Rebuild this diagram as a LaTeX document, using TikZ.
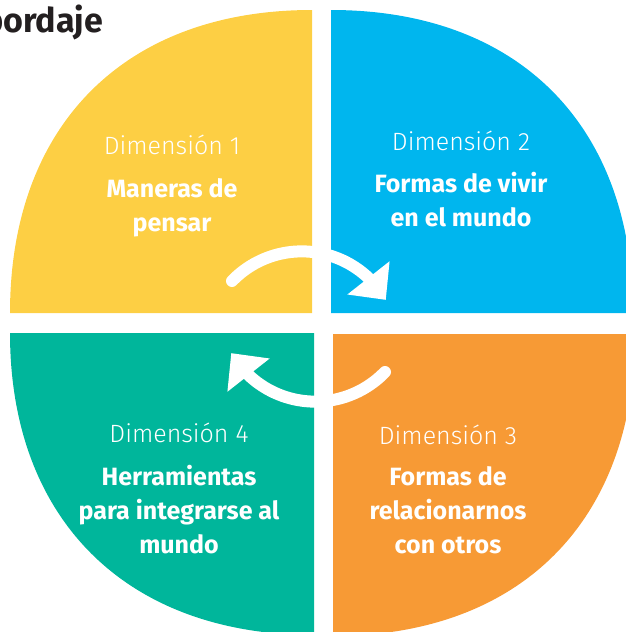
\documentclass[tikz,border=0pt]{standalone}
\usepackage{fontspec}
\setmainfont{Fira Sans}
\newfontfamily\lightfont{Fira Sans Light}
\usetikzlibrary{arrows.meta,bending}
\definecolor{dim-yellow}{HTML}{FDCF44}
\definecolor{dim-blue}{HTML}{00B6EE}
\definecolor{dim-green}{HTML}{00B69B}
\definecolor{dim-orange}{HTML}{F79A35}
\definecolor{heading-gray}{HTML}{231F20}
\tikzset{
    dim-label/.style = {text=white, font=\lightfont\fontsize{25}{28}\selectfont, anchor=base, inner sep=0pt},
    dim-title/.style = {text=white, font=\bfseries\fontsize{25}{34}\selectfont, align=center, anchor=base, inner sep=0pt},
    cycle-arrow/.style = {white, line width=12pt, line cap=round, -{Triangle[length=28pt, width=52pt, flex]}},
}

\begin{document}
\begin{tikzpicture}[x=1pt, y=-1pt]
\useasboundingbox (0,0) rectangle (626,632);
\clip (0,0) rectangle (626,632);
\fill[dim-yellow] (10,313) .. controls (10,125) and (125,10) .. (312,10) -- (312,313) -- cycle;
\fill[dim-blue] (331,10) .. controls (518,10) and (633,125) .. (633,313) -- (331,313) -- cycle;
\fill[dim-green] (10,333) -- (314,333) -- (314,635) .. controls (127,635) and (10,520) .. (10,333) -- cycle;
\fill[dim-orange] (333,334) -- (635,334) .. controls (635,521) and (520,636) .. (333,636) -- cycle;
\node[text=heading-gray, font=\bfseries\fontsize{34}{40}\selectfont, anchor=base east, inner sep=0pt] (heading) at (103,32) {bordaje};
\node[dim-label] (dim1) at (172,154) {Dimensión 1};
\node[dim-title] (title1) at (172,231) {Maneras de\\pensar};
\node[dim-label] (dim2) at (461,150) {Dimensión 2};
\node[dim-title] (title2) at (461,226) {Formas de vivir\\en el mundo};
\node[dim-label] (dim3) at (448,444) {Dimensión 3};
\node[dim-title] (title3) at (448,553) {Formas de\\relacionarnos\\con otros};
\node[dim-label] (dim4) at (179,442) {Dimensión 4};
\node[dim-title] (title4) at (179,553) {Herramientas\\para integrarse al\\mundo};
\draw[cycle-arrow] (232,281) arc[start angle=-136, end angle=-30, radius=97];
\draw[cycle-arrow] (385,372) arc[start angle=44, end angle=150, radius=97];
\end{tikzpicture}
\end{document}
